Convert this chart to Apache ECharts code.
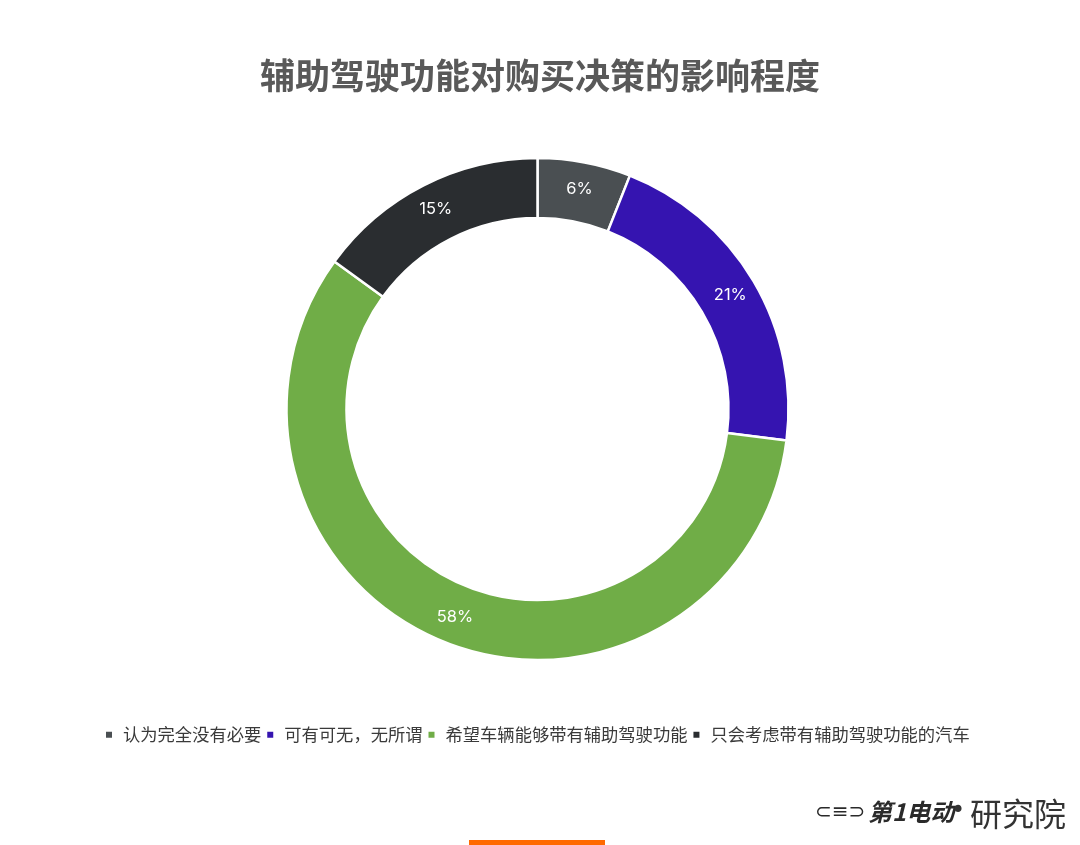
<!DOCTYPE html>
<html><head><meta charset="utf-8">
<script src="https://cdn.jsdelivr.net/npm/echarts@6/dist/echarts.min.js"></script>
<style>html,body{margin:0;padding:0;background:#fff;}#c{width:1080px;height:845px;}</style>
</head><body><div id="c"></div>
<script>
const titleText = '辅助驾驶功能对购买决策的影响程度';
const categories = ['认为完全没有必要', '可有可无，无所谓', '希望车辆能够带有辅助驾驶功能', '只会考虑带有辅助驾驶功能的汽车'];
const values = [6, 21, 58, 15];
const colors = ['#4a4f52', '#3514b0', '#70ad47', '#2a2d30'];

const chart = echarts.init(document.getElementById('c'));
chart.setOption({
  backgroundColor: '#fff',
  animation: false,
  color: colors,
  title: {
    text: titleText, left: 'center', top: 53,
    textStyle: { fontFamily: 'Noto Sans CJK SC', fontSize: 35, fontWeight: 'bold', color: '#595959' }
  },
  legend: {
    data: categories, left: 99, top: 721, itemWidth: 8, itemHeight: 8, itemGap: 4, icon: 'rect',
    textStyle: { fontFamily: 'Noto Sans CJK SC', fontSize: 17.3, color: '#3a3a3a', padding: [0,0,0,5] }
  },
  graphic: [
    { type: 'text', left: 868, top: 800, style: { text: '第1电动', fontFamily: 'Noto Sans CJK SC', fontSize: 24, fontWeight: 'bold', fontStyle: 'italic', fill: '#2a2a2a' } },
    { type: 'text', left: 815, top: 803, style: { text: '⊂≡⊃', fontFamily: 'DejaVu Sans', fontSize: 20, fill: '#2a2a2a' } },
    { type: 'text', left: 951, top: 800, style: { text: '•', fontFamily: 'DejaVu Sans', fontSize: 24, fill: '#333' } },
    { type: 'text', left: 970, top: 798, style: { text: '研究院', fontFamily: 'Noto Sans CJK SC', fontSize: 32, fill: '#333' } },
    { type: 'rect', shape: { x: 469, y: 840, width: 136, height: 5 }, style: { fill: '#ff6a00' } }
  ],
  series: [{
    type: 'pie',
    center: [537.5, 409],
    radius: [191, 251],
    startAngle: 90,
    clockwise: true,
    avoidLabelOverlap: false,
    itemStyle: { borderColor: '#fff', borderWidth: 2.5 },
    label: {
      show: true, position: 'inside', formatter: '{c}%',
      fontFamily: 'Inter', fontSize: 16.5, color: '#fff'
    },
    labelLine: { show: false },
    data: categories.map((n, i) => ({ name: n, value: values[i] }))
  }]
});
</script></body></html>
